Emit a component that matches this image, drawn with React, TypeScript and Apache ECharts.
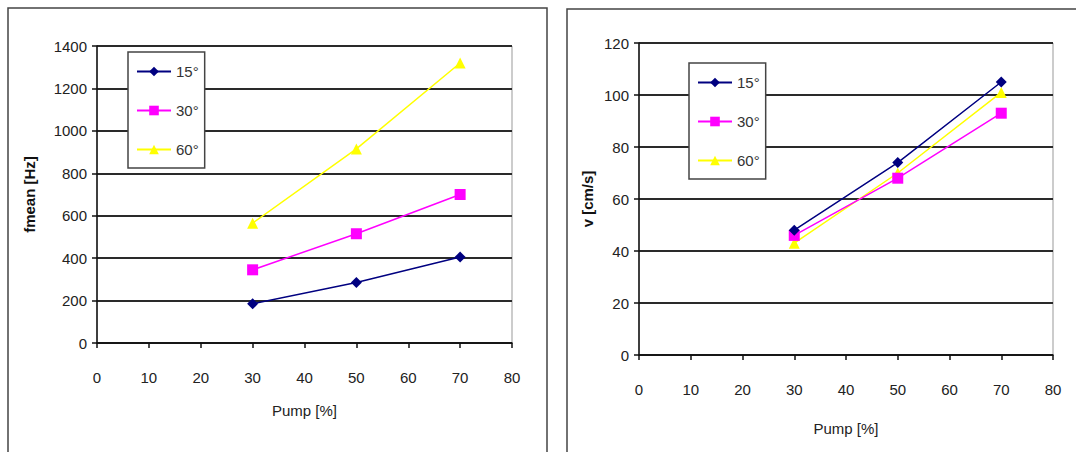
import React, { useEffect, useRef } from "react";
import * as echarts from "echarts";

const pump = [30, 50, 70];
const seriesNames = ["15°", "30°", "60°"];
const fmean15 = [185, 285, 405];
const fmean30 = [345, 515, 700];
const fmean60 = [565, 915, 1320];
const v15 = [48, 74, 105];
const v30 = [46, 68, 93];
const v60 = [43, 70, 101];
const colors = ["#000080", "#ff00ff", "#ffff00"];
const symbols = ["diamond", "rect", "triangle"];

const FONT = "'Liberation Sans', Arial, sans-serif";

export default function App() {
  const ref = useRef<HTMLDivElement>(null);
  useEffect(() => {
    if (!ref.current) return;
    const chart = echarts.init(ref.current, undefined, { renderer: "svg" });
    const mk = (vals: number[], i: number, idx: number) => ({
      name: seriesNames[i],
      type: "line",
      xAxisIndex: idx,
      yAxisIndex: idx,
      data: pump.map((p, k) => [p, vals[k]]),
      symbol: symbols[i],
      symbolSize: 11,
      lineStyle: { color: colors[i], width: 1.5 },
      itemStyle: { color: colors[i] },
      z: 5 - i,
    });
    const xAxisBase = (gridIndex: number, nameGap: number) => ({
      type: "value",
      gridIndex,
      min: 0,
      max: 80,
      interval: 10,
      name: "Pump [%]",
      nameLocation: "middle",
      nameGap,
      nameTextStyle: { fontFamily: FONT, fontSize: 15, color: "#222" },
      axisLine: { show: true, lineStyle: { color: "#111", width: 1.5 } },
      axisTick: { show: true, inside: false, length: 5, lineStyle: { color: "#111", width: 1.5 } },
      axisLabel: { margin: 27, fontFamily: FONT, fontSize: 15, color: "#222" },
      splitLine: { show: false },
    });
    const yAxisBase = (gridIndex: number, max: number, interval: number, name: string, nameGap: number) => ({
      type: "value",
      gridIndex,
      min: 0,
      max,
      interval,
      name,
      nameLocation: "middle",
      nameGap,
      nameTextStyle: { fontFamily: FONT, fontSize: 15, fontWeight: "bold", color: "#111" },
      axisLine: { show: true, lineStyle: { color: "#111", width: 1.5 } },
      axisTick: { show: true, inside: false, length: 5, lineStyle: { color: "#111", width: 1.5 } },
      axisLabel: { margin: 10, fontFamily: FONT, fontSize: 15, color: "#222", formatter: (v: number) => String(v) },
      splitLine: { show: true, lineStyle: { color: "#2a2a2a", width: 2 } },
    });
    const legendBase = (left: number, top: number) => ({
      orient: "vertical",
      left,
      top,
      data: seriesNames,
      itemWidth: 34,
      itemHeight: 12,
      itemGap: 24,
      padding: [12, 6, 11, 8],
      borderColor: "#444",
      borderWidth: 1.5,
      backgroundColor: "#fff",
      textStyle: { fontFamily: FONT, fontSize: 15, color: "#333" },
      selectedMode: false,
    });
    chart.setOption({
      animation: false,
      backgroundColor: "#fff",
      graphic: [
        { type: "rect", shape: { x: 8, y: 8, width: 539, height: 460 }, style: { fill: "none", stroke: "#444", lineWidth: 1.5 }, silent: true },
        { type: "rect", shape: { x: 567, y: 9, width: 520, height: 460 }, style: { fill: "none", stroke: "#444", lineWidth: 1.5 }, silent: true },
      ],
      grid: [
        { left: 97, top: 46, right: 564, bottom: 109, show: true, borderColor: "#999", borderWidth: 1, backgroundColor: "transparent" },
        { left: 639, top: 43, right: 23, bottom: 97, show: true, borderColor: "#999", borderWidth: 1, backgroundColor: "transparent" },
      ],
      xAxis: [xAxisBase(0, 60), xAxisBase(1, 66)],
      yAxis: [yAxisBase(0, 1400, 200, "fmean [Hz]", 60), yAxisBase(1, 120, 20, "v [cm/s]", 44)],
      legend: [legendBase(128, 52), legendBase(689, 63)],
      series: [
        mk(fmean15, 0, 0),
        mk(fmean30, 1, 0),
        mk(fmean60, 2, 0),
        mk(v15, 0, 1),
        mk(v30, 1, 1),
        mk(v60, 2, 1),
      ],
    });
    return () => chart.dispose();
  }, []);
  return <div ref={ref} style={{ position: "absolute", left: 0, top: 0, width: 1076, height: 452 }} />;
}
